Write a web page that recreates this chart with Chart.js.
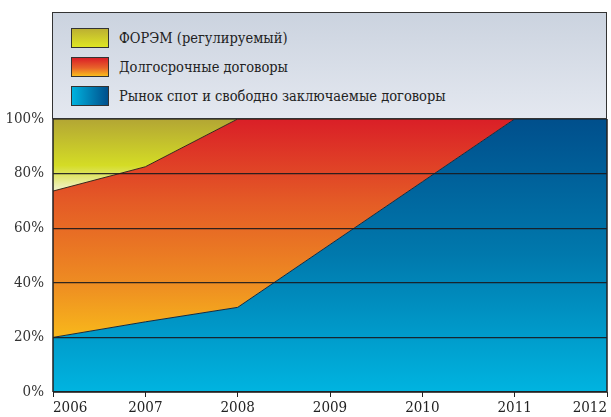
<!DOCTYPE html>
<html><head><meta charset="utf-8">
<script src="https://cdn.jsdelivr.net/npm/chart.js@4/dist/chart.umd.min.js"></script>
<style>
html,body{margin:0;padding:0;background:#fff;}
#wrap{position:relative;width:611px;height:417px;}
#c{position:absolute;left:0;top:0;}
#legend{position:absolute;left:52px;top:12px;width:553px;height:105px;border:1px solid #333;
 background:linear-gradient(to bottom,#cbd3df,#e4e8f0);font-family:"DejaVu Serif Condensed","DejaVu Serif",serif;font-size:14.5px;color:#222;z-index:2;}
.item{position:absolute;left:18px;height:20px;display:flex;align-items:center;}
.sw{width:36px;height:18px;border:1px solid #333;margin-right:10px;}
</style></head>
<body><div id="wrap"><canvas id="c" width="611" height="417"></canvas><div id="legend"></div></div>
<script>
const years = ['2006','2007','2008','2009','2010','2011','2012'];
const seriesNames = ['Рынок спот и свободно заключаемые договоры','Долгосрочные договоры','ФОРЭМ (регулируемый)'];
const spotMarket = [20, 25.7, 31, 54, 77, 100, 100];
const longTermContracts = [53.6, 56.8, 69, 46, 23, 0, 0];
const foremRegulated = [26.4, 17.5, 0, 0, 0, 0, 0];
const yTicks = [0, 20, 40, 60, 80, 100];
const FONT = '"DejaVu Serif Condensed", "DejaVu Serif", serif';

function grad(stops){
  return function(ctx){
    const ch = ctx.chart, a = ch.chartArea;
    if(!a) return stops[0][1];
    const g = ch.ctx.createLinearGradient(0, a.top, 0, a.bottom);
    stops.forEach(s=>g.addColorStop(s[0], s[1]));
    return g;
  };
}
const blueStops = [[0,'#004f8c'],[0.5,'#0079ad'],[1,'#00b4e0']];
const redStops = [[0,'#da1f27'],[0.3,'#e45a26'],[0.6,'#ee8c22'],[0.8,'#f8b81b'],[1,'#fcc814']];
const yellowStops = [[0,'#b3a634'],[0.17,'#d4dc25'],[0.25,'#eef0b8'],[0.27,'#f4f4d0'],[1,'#f4f4d0']];

const legendItems = [
  {t: seriesNames[2], bg:'linear-gradient(to bottom,#bcb032,#dfe624)', top:15},
  {t: seriesNames[1], bg:'linear-gradient(to bottom,#da1f27,#e8632a 55%,#f9bc1c)', top:44},
  {t: seriesNames[0], bg:'linear-gradient(to right,#00b2de,#004f8c)', top:73}
];
const lg = document.getElementById('legend');
legendItems.forEach(it=>{
  const d = document.createElement('div'); d.className='item'; d.style.top = it.top+'px';
  const s = document.createElement('div'); s.className='sw'; s.style.background = it.bg;
  const t = document.createElement('span'); t.textContent = it.t;
  d.appendChild(s); d.appendChild(t); lg.appendChild(d);
});

const frame = {
  id:'frame',
  afterDraw(chart){
    const {ctx, chartArea:a} = chart;
    ctx.save(); ctx.strokeStyle='#222'; ctx.lineWidth=1.5;
    ctx.beginPath();
    ctx.moveTo(a.left, a.top); ctx.lineTo(a.left, a.bottom);
    ctx.moveTo(a.right, a.top); ctx.lineTo(a.right, a.bottom);
    ctx.moveTo(a.left, a.bottom); ctx.lineTo(a.right, a.bottom);
    ctx.stroke();
    ctx.restore();
  }
};

new Chart(document.getElementById('c'), {
  type:'line',
  data:{
    labels: years,
    datasets:[
      {label: seriesNames[0], data: spotMarket, fill:'origin', backgroundColor: grad(blueStops), borderColor:'#1c2a3a', borderWidth:1, pointRadius:0, tension:0},
      {label: seriesNames[1], data: longTermContracts, fill:'-1', backgroundColor: grad(redStops), borderColor:'#3a2a1a', borderWidth:1, pointRadius:0, tension:0},
      {label: seriesNames[2], data: foremRegulated, fill:'-1', backgroundColor: grad(yellowStops), borderColor:'#333', borderWidth:1, pointRadius:0, tension:0}
    ]
  },
  options:{
    responsive:false, animation:false,
    layout:{padding:{top:119, right:4, left:0, bottom:0}},
    plugins:{legend:{display:false}, tooltip:{enabled:false}},
    scales:{
      x:{
        grid:{drawOnChartArea:false, drawTicks:true, tickLength:5, color:'#222'},
        border:{display:false},
        ticks:{align:'inner', color:'#222', padding:2, maxRotation:0, autoSkip:false,
          font:{family:FONT, size:15}},
        afterFit(s){ s.height = 25; s.paddingLeft = 0; s.paddingRight = 0; }
      },
      y:{
        stacked:true, min:0, max:100,
        afterBuildTicks(s){ s.ticks = yTicks.map(v=>({value:v})); },
        grid:{color:'rgba(25,25,30,0.9)', lineWidth:1.2, z:1, drawTicks:false},
        border:{display:false},
        ticks:{padding:9, color:'#333', callback:v=>v+'%',
          font:{family:FONT, size:15}},
        afterFit(s){ s.width = 53; }
      }
    }
  },
  plugins:[frame]
});
</script>
</body></html>
